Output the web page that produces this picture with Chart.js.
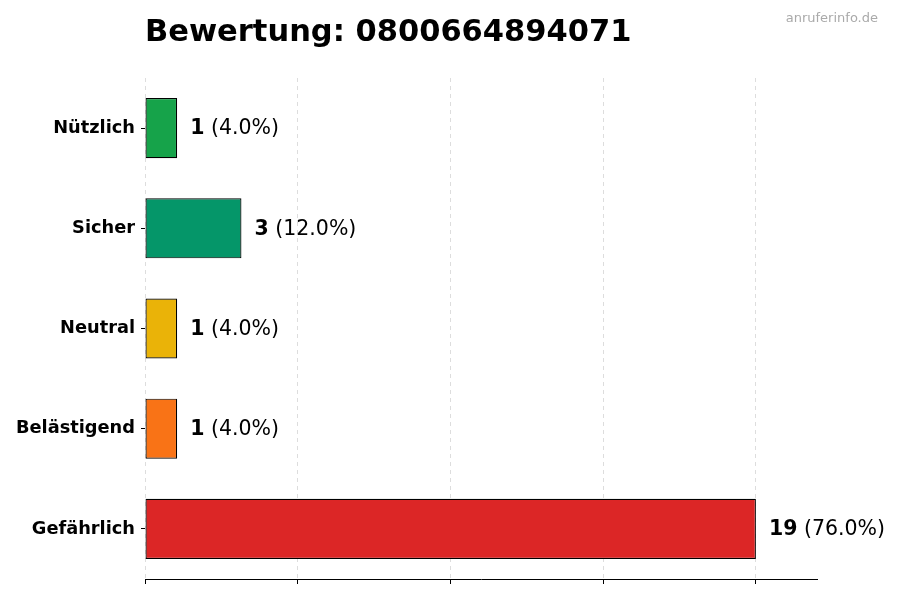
<!DOCTYPE html>
<html>
<head>
<meta charset="utf-8">
<script src="https://cdn.jsdelivr.net/npm/chart.js@4.4.0/dist/chart.umd.min.js"></script>
<style>
html,body{margin:0;padding:0;background:#fff;}
#wrap{width:900px;height:600px;position:relative;}
</style>
</head>
<body>
<div id="wrap"><canvas id="c" width="900" height="600"></canvas></div>
<script>
const categories = ["Nützlich", "Sicher", "Neutral", "Belästigend", "Gefährlich"];
const counts = [1, 3, 1, 1, 19];
const barColors = ["#16a34a", "#059669", "#eab308", "#f97316", "#dc2626"];
const titleText = "Bewertung: 0800664894071";
const watermark = "anruferinfo.de";

const total = counts.reduce((a, b) => a + b, 0);
const maxVal = Math.max(...counts);
const FONT = "'DejaVu Sans', sans-serif";

const overlay = {
  id: 'overlay',
  afterDatasetsDraw(chart) {
    const ctx = chart.ctx;
    const meta = chart.getDatasetMeta(0);
    ctx.save();
    ctx.textBaseline = 'middle';
    meta.data.forEach((bar, i) => {
      const v = counts[i];
      const pct = ' (' + (v / total * 100).toFixed(1) + '%)';
      let x = bar.x + 13;
      const y = bar.y + 1;
      ctx.font = 'bold 20.5px ' + FONT;
      ctx.fillStyle = '#000';
      ctx.textAlign = 'left';
      ctx.fillText(String(v), x, y);
      x += ctx.measureText(String(v)).width;
      ctx.font = '20.5px ' + FONT;
      ctx.fillText(pct, x, y);
    });
    ctx.font = 'bold 30.5px ' + FONT;
    ctx.textBaseline = 'alphabetic';
    ctx.fillText(titleText, chart.chartArea.left, 41);
    ctx.font = '13px ' + FONT;
    ctx.fillStyle = '#aaaaaa';
    ctx.textAlign = 'right';
    ctx.fillText(watermark, 878, 22);
    ctx.restore();
  }
};

new Chart(document.getElementById('c'), {
  type: 'bar',
  data: {
    labels: categories,
    datasets: [{
      data: counts,
      backgroundColor: barColors,
      borderColor: '#000',
      borderWidth: 1.2,
      borderSkipped: false,
      categoryPercentage: 0.6,
      barPercentage: 1.0
    }]
  },
  options: {
    indexAxis: 'y',
    responsive: false,
    animation: false,
    devicePixelRatio: 1,
    layout: { padding: { left: 0, right: 83, top: 78, bottom: 0 } },
    plugins: { legend: { display: false }, tooltip: { enabled: false }, title: { display: false } },
    scales: {
      x: {
        min: 0,
        max: maxVal * 1.1,
        afterBuildTicks(scale) {
          scale.ticks = [0, 1, 2, 3, 4].map(k => ({ value: maxVal * k / 4 }));
        },
        afterFit(scale) { scale.height = 21; },
        ticks: { display: false },
        grid: {
          display: true,
          color: '#dddddd',
          lineWidth: 1,
          drawTicks: true,
          tickLength: 5,
          tickColor: '#000',
          tickBorderDash: [],
          tickWidth: 1
        },
        border: { display: true, color: '#000', width: 1, dash: [4, 4] }
      },
      y: {
        afterFit(scale) { scale.width = 145; },
        ticks: {
          color: '#000',
          font: { family: FONT, size: 17.8, weight: 'bold' },
          padding: 6
        },
        grid: { display: true, offset: false, drawOnChartArea: false, drawTicks: true, tickLength: 4, tickColor: '#000' },
        border: { display: false }
      }
    }
  },
  plugins: [overlay]
});
</script>
</body>
</html>
